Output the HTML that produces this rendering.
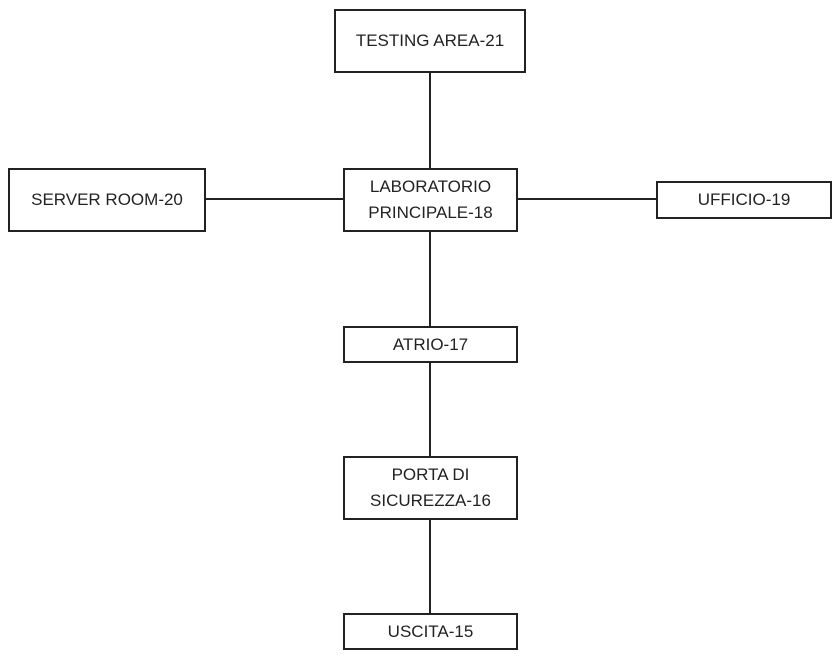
<!DOCTYPE html>
<html><head><meta charset="utf-8"><style>
body{margin:0;background:#fff;width:840px;height:660px;position:relative;overflow:hidden;font-family:"Liberation Sans","DejaVu Sans",sans-serif;}
.b{position:absolute;box-sizing:border-box;border:2px solid #222;background:#fff;display:flex;align-items:center;justify-content:center;text-align:center;font-size:17px;line-height:26px;color:#222;}
</style></head><body>
<svg width="840" height="660" style="position:absolute;left:0;top:0">
<g stroke="#222" stroke-width="2">
<line x1="430" y1="72" x2="430" y2="613"/>
<line x1="205" y1="199" x2="656" y2="199"/>
</g></svg>
<div class="b" style="left:334px;top:9px;width:192px;height:64px">TESTING AREA-21</div>
<div class="b" style="left:8px;top:168px;width:198px;height:64px">SERVER ROOM-20</div>
<div class="b" style="left:343px;top:168px;width:175px;height:64px">LABORATORIO<br>PRINCIPALE-18</div>
<div class="b" style="left:656px;top:181px;width:176px;height:38px">UFFICIO-19</div>
<div class="b" style="left:343px;top:326px;width:175px;height:37px">ATRIO-17</div>
<div class="b" style="left:343px;top:456px;width:175px;height:64px">PORTA DI<br>SICUREZZA-16</div>
<div class="b" style="left:343px;top:613px;width:175px;height:37px">USCITA-15</div>
</body></html>
